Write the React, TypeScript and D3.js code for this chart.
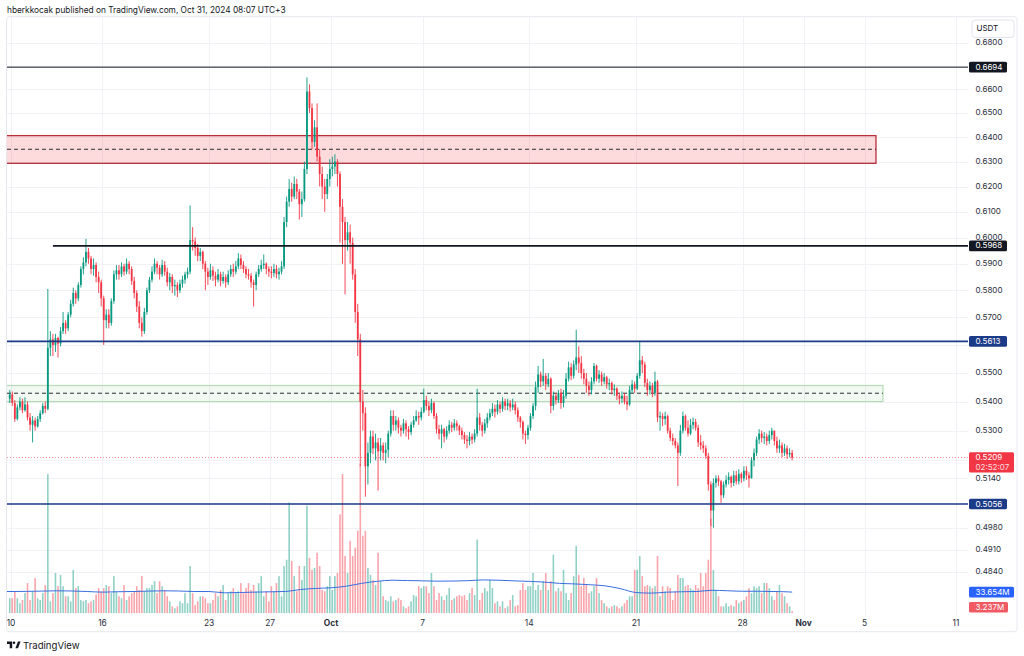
import React from 'react';
import * as d3 from 'd3';

// 4h candles, first one starts Sep 9 20:00
const firstOpen = 0.541;
const closes = [
  0.5425,
  0.5395, 0.534, 0.538, 0.54, 0.537, 0.539, // Sep 10
  0.5345, 0.532, 0.5335, 0.5315, 0.534, 0.536,
  0.5385, 0.5375, 0.559, 0.562, 0.56, 0.5625,
  0.5605, 0.565, 0.568, 0.566, 0.571, 0.575,
  0.579, 0.577, 0.582, 0.588, 0.5905, 0.5945,
  0.592, 0.588, 0.5895, 0.585, 0.583, 0.577, // Sep 15
  0.569, 0.571, 0.568, 0.576, 0.586, 0.5875,
  0.586, 0.589, 0.587, 0.59, 0.588, 0.5835,
  0.579, 0.574, 0.568, 0.565, 0.572, 0.58,
  0.584, 0.587, 0.59, 0.5885, 0.586, 0.5895,
  0.587, 0.583, 0.585, 0.5815, 0.582, 0.58, // Sep 20
  0.5825, 0.584, 0.586, 0.587, 0.599, 0.5985,
  0.596, 0.593, 0.5945, 0.59, 0.587, 0.585,
  0.5875, 0.5855, 0.584, 0.586, 0.5835, 0.585,
  0.583, 0.586, 0.588, 0.587, 0.589, 0.592,
  0.5895, 0.588, 0.586, 0.5855, 0.583, 0.582, // Sep 25
  0.586, 0.588, 0.5895, 0.59, 0.588, 0.587,
  0.5865, 0.588, 0.586, 0.587, 0.589, 0.606,
  0.614, 0.619, 0.616, 0.621, 0.618, 0.613,
  0.615, 0.627, 0.659, 0.652, 0.638, 0.644,
  0.632, 0.625, 0.62, 0.617, 0.623, 0.627, // Sep 30
  0.628, 0.63, 0.625, 0.612, 0.606, 0.599, // Oct 1
  0.602, 0.598, 0.586, 0.572, 0.562, 0.54,
  0.536, 0.518, 0.5225, 0.528, 0.524, 0.526,
  0.523, 0.525, 0.5225, 0.5235, 0.529, 0.535,
  0.532, 0.5335, 0.531, 0.53, 0.5325, 0.5305, // Oct 5
  0.5295, 0.532, 0.5335, 0.535, 0.5345, 0.5365,
  0.5405, 0.5385, 0.537, 0.5395, 0.535, 0.5305,
  0.529, 0.5305, 0.528, 0.53, 0.532, 0.531,
  0.5325, 0.5315, 0.53, 0.5285, 0.527, 0.5265,
  0.528, 0.527, 0.529, 0.5345, 0.532, 0.53, // Oct 10
  0.5325, 0.5345, 0.536, 0.5375, 0.5365, 0.539,
  0.5375, 0.54, 0.5385, 0.5395, 0.538, 0.539,
  0.537, 0.5345, 0.533, 0.529, 0.5285, 0.531,
  0.535, 0.5385, 0.545, 0.5495, 0.547, 0.549,
  0.546, 0.548, 0.5385, 0.542, 0.5405, 0.543, // Oct 15
  0.5395, 0.542, 0.548, 0.552, 0.549, 0.553,
  0.5555, 0.5535, 0.55, 0.548, 0.5455, 0.544,
  0.547, 0.5525, 0.548, 0.5495, 0.547, 0.5485,
  0.546, 0.5465, 0.544, 0.5445, 0.542, 0.541,
  0.542, 0.54, 0.539, 0.544, 0.546, 0.5445, // Oct 20
  0.549, 0.5545, 0.553, 0.5465, 0.544, 0.5455,
  0.543, 0.547, 0.5345, 0.535, 0.534, 0.535,
  0.53, 0.5275, 0.5265, 0.525, 0.5225, 0.53,
  0.535, 0.531, 0.529, 0.532, 0.533, 0.531,
  0.526, 0.525, 0.524, 0.5215, 0.512, 0.5035, // Oct 25
  0.5125, 0.514, 0.513, 0.5085, 0.512, 0.5135,
  0.5145, 0.5125, 0.515, 0.513, 0.5155, 0.514,
  0.5165, 0.515, 0.514, 0.52, 0.5225, 0.527,
  0.529, 0.5275, 0.528, 0.5265, 0.5285, 0.53,
  0.5265, 0.524, 0.525, 0.5225, 0.524, 0.522, // Oct 30
  0.5225, 0.5209,
];

const highs = [
  0.544,
  0.5435, 0.5405, 0.539, 0.5415, 0.541, 0.5415,
  0.54, 0.536, 0.535, 0.5345, 0.535, 0.537,
  0.5395, 0.54, 0.5805, 0.565, 0.564, 0.564,
  0.563, 0.5665, 0.572, 0.569, 0.572, 0.5765,
  0.581, 0.58, 0.583, 0.589, 0.5925, 0.5995,
  0.596, 0.593, 0.592, 0.5905, 0.587, 0.584,
  0.578, 0.573, 0.573, 0.577, 0.5875, 0.5895,
  0.5895, 0.5905, 0.59, 0.592, 0.591, 0.589,
  0.585, 0.58, 0.576, 0.57, 0.5735, 0.581,
  0.585, 0.589, 0.592, 0.591, 0.5895, 0.5915,
  0.591, 0.5885, 0.5865, 0.586, 0.584, 0.583,
  0.584, 0.5855, 0.587, 0.5885, 0.6125, 0.604,
  0.6, 0.5975, 0.596, 0.595, 0.591, 0.5885,
  0.59, 0.589, 0.587, 0.588, 0.587, 0.587,
  0.586, 0.5875, 0.5895, 0.59, 0.591, 0.594,
  0.5935, 0.591, 0.589, 0.588, 0.5865, 0.584,
  0.587, 0.5895, 0.5915, 0.5935, 0.5905, 0.589,
  0.589, 0.59, 0.5895, 0.5885, 0.591, 0.608,
  0.616, 0.623, 0.6215, 0.624, 0.623, 0.619,
  0.618, 0.63, 0.665, 0.662, 0.654, 0.647,
  0.654, 0.635, 0.628, 0.623, 0.625, 0.631,
  0.632, 0.633, 0.631, 0.626, 0.615, 0.608,
  0.606, 0.605, 0.6, 0.588, 0.575, 0.564,
  0.544, 0.538, 0.526, 0.53, 0.53, 0.529,
  0.5275, 0.5275, 0.526, 0.526, 0.53, 0.537,
  0.537, 0.535, 0.5345, 0.532, 0.534, 0.5335,
  0.5315, 0.533, 0.535, 0.537, 0.5365, 0.538,
  0.5445, 0.542, 0.54, 0.541, 0.54, 0.536,
  0.532, 0.532, 0.531, 0.5315, 0.5335, 0.533,
  0.534, 0.5335, 0.532, 0.531, 0.5295, 0.5285,
  0.5295, 0.529, 0.5305, 0.5445, 0.536, 0.533,
  0.534, 0.536, 0.5375, 0.5395, 0.539, 0.5405,
  0.54, 0.5415, 0.541, 0.541, 0.5405, 0.541,
  0.54, 0.538, 0.535, 0.5335, 0.53, 0.532,
  0.536, 0.5395, 0.547, 0.5525, 0.5505, 0.555,
  0.55, 0.55, 0.5485, 0.5435, 0.543, 0.544,
  0.5445, 0.544, 0.55, 0.554, 0.5535, 0.5545,
  0.5655, 0.5595, 0.556, 0.5515, 0.55, 0.547,
  0.5485, 0.5535, 0.553, 0.551, 0.5505, 0.55,
  0.549, 0.548, 0.547, 0.546, 0.545, 0.543,
  0.5435, 0.543, 0.542, 0.5455, 0.5475, 0.547,
  0.55, 0.5615, 0.556, 0.554, 0.548, 0.547,
  0.5465, 0.5505, 0.5475, 0.5365, 0.536, 0.5365,
  0.5355, 0.531, 0.529, 0.5275, 0.526, 0.532,
  0.5365, 0.5355, 0.5335, 0.534, 0.5345, 0.534,
  0.532, 0.5285, 0.5265, 0.525, 0.5225, 0.513,
  0.514, 0.515, 0.515, 0.5135, 0.513, 0.515,
  0.516, 0.515, 0.5165, 0.5165, 0.517, 0.516,
  0.518, 0.518, 0.516, 0.521, 0.524, 0.528,
  0.5305, 0.53, 0.5295, 0.529, 0.53, 0.531,
  0.53, 0.528, 0.527, 0.526, 0.5255, 0.525,
  0.524, 0.5235,
];

const lows = [
  0.5395,
  0.5385, 0.533, 0.5335, 0.537, 0.536, 0.5365,
  0.5335, 0.53, 0.526, 0.53, 0.531, 0.533,
  0.5355, 0.536, 0.537, 0.556, 0.556, 0.5575,
  0.5555, 0.5595, 0.564, 0.564, 0.565, 0.57,
  0.574, 0.575, 0.576, 0.581, 0.586, 0.589,
  0.59, 0.586, 0.5855, 0.583, 0.579, 0.574,
  0.56, 0.566, 0.566, 0.567, 0.575, 0.584,
  0.584, 0.585, 0.5855, 0.586, 0.586, 0.582,
  0.577, 0.572, 0.566, 0.563, 0.564, 0.571,
  0.579, 0.583, 0.586, 0.586, 0.584, 0.585,
  0.5855, 0.5815, 0.58, 0.579, 0.578, 0.5775,
  0.579, 0.581, 0.5825, 0.5845, 0.586, 0.595,
  0.593, 0.591, 0.591, 0.588, 0.58, 0.582,
  0.584, 0.5835, 0.5815, 0.583, 0.5815, 0.5825,
  0.581, 0.582, 0.585, 0.585, 0.586, 0.588,
  0.588, 0.5865, 0.5845, 0.584, 0.581, 0.574,
  0.58, 0.585, 0.587, 0.588, 0.586, 0.585,
  0.5845, 0.585, 0.5845, 0.584, 0.586, 0.588,
  0.604, 0.612, 0.614, 0.615, 0.615, 0.607,
  0.608, 0.614, 0.625, 0.65, 0.635, 0.636,
  0.63, 0.62, 0.615, 0.61, 0.615, 0.62,
  0.624, 0.625, 0.62, 0.598, 0.59, 0.5785,
  0.595, 0.59, 0.584, 0.568, 0.556, 0.518,
  0.53, 0.508, 0.512, 0.519, 0.522, 0.52,
  0.51, 0.52, 0.52, 0.519, 0.521, 0.528,
  0.53, 0.53, 0.529, 0.528, 0.529, 0.528,
  0.527, 0.5285, 0.531, 0.533, 0.532, 0.5335,
  0.536, 0.537, 0.535, 0.536, 0.534, 0.529,
  0.527, 0.524, 0.526, 0.527, 0.529, 0.5295,
  0.53, 0.53, 0.5285, 0.527, 0.5255, 0.524,
  0.525, 0.5255, 0.526, 0.528, 0.53, 0.528,
  0.529, 0.531, 0.5335, 0.535, 0.5345, 0.5355,
  0.536, 0.5365, 0.537, 0.537, 0.5365, 0.537,
  0.5355, 0.533, 0.531, 0.527, 0.5255, 0.527,
  0.53, 0.534, 0.537, 0.543, 0.545, 0.5455,
  0.544, 0.545, 0.536, 0.537, 0.539, 0.5395,
  0.5375, 0.538, 0.541, 0.547, 0.5475, 0.548,
  0.551, 0.55, 0.548, 0.546, 0.543, 0.542,
  0.5425, 0.546, 0.547, 0.5465, 0.5455, 0.546,
  0.5445, 0.544, 0.5425, 0.542, 0.5405, 0.539,
  0.5395, 0.539, 0.537, 0.5385, 0.543, 0.543,
  0.544, 0.548, 0.55, 0.545, 0.542, 0.5425,
  0.5415, 0.542, 0.533, 0.53, 0.5315, 0.532,
  0.529, 0.5265, 0.525, 0.524, 0.5115, 0.5215,
  0.529, 0.53, 0.528, 0.5285, 0.5305, 0.53,
  0.5245, 0.5235, 0.5225, 0.5205, 0.51, 0.4985,
  0.498, 0.511, 0.5115, 0.506, 0.5075, 0.511,
  0.512, 0.511, 0.5115, 0.512, 0.512, 0.5125,
  0.513, 0.5135, 0.511, 0.514, 0.518, 0.5215,
  0.5255, 0.526, 0.5255, 0.525, 0.5255, 0.527,
  0.525, 0.5225, 0.5225, 0.521, 0.5215, 0.5205,
  0.521, 0.52,
];

// volume in millions
const volumes = [
  24,
  24, 35, 24, 16, 21, 32,
  48, 21, 35, 56, 24, 21,
  32, 45, 221, 19, 32, 64,
  43, 61, 43, 27, 27, 19,
  69, 40, 43, 21, 19, 21,
  16, 19, 21, 30, 40, 35,
  40, 45, 43, 32, 59, 35,
  27, 24, 45, 21, 27, 32,
  35, 43, 37, 59, 35, 40,
  40, 45, 51, 32, 51, 43,
  37, 27, 19, 11, 8, 11,
  19, 16, 32, 16, 75, 32,
  13, 19, 27, 27, 24, 16,
  16, 21, 32, 27, 37, 45,
  21, 32, 35, 40, 32, 35,
  48, 32, 40, 48, 37, 45,
  35, 48, 59, 27, 35, 19,
  43, 35, 48, 59, 27, 75,
  85, 176, 83, 59, 35, 75,
  53, 75, 171, 88, 69, 72,
  96, 75, 37, 35, 43, 59,
  37, 59, 64, 157, 221, 91,
  64, 115, 91, 104, 131, 237,
  123, 131, 72, 61, 53, 45,
  96, 51, 27, 21, 19, 27,
  19, 21, 24, 21, 11, 8,
  11, 19, 29, 27, 43, 40,
  43, 43, 32, 64, 43, 21,
  32, 27, 21, 29, 40, 21,
  24, 27, 29, 27, 29, 21,
  32, 40, 29, 117, 21, 32,
  40, 35, 53, 40, 16, 19,
  11, 19, 8, 11, 21, 29,
  11, 13, 37, 48, 37, 43,
  43, 64, 37, 45, 37, 51,
  64, 37, 51, 93, 35, 40,
  35, 69, 32, 21, 32, 59,
  107, 61, 43, 56, 45, 32,
  35, 43, 56, 32, 21, 16,
  11, 8, 11, 13, 11, 8,
  11, 16, 21, 27, 27, 69,
  69, 91, 59, 43, 45, 43,
  40, 43, 91, 27, 43, 35,
  43, 40, 21, 35, 61, 56,
  56, 43, 45, 40, 37, 45,
  40, 64, 43, 64, 85, 150,
  69, 37, 27, 11, 11, 16,
  11, 13, 11, 21, 16, 19,
  21, 27, 40, 32, 43, 40,
  43, 32, 48, 48, 40, 27,
  21, 35, 45, 32, 27, 16,
  11, 3.237,
];

// volume moving average, one value per day from Sep 9
const volMA = [
  34.6, 34.6, 34.8, 35.2, 35.7, 35.4, 34.6, 33.6, 34.2, 34.6, 35.2, 35.7, 35.4,
  34.6, 34.6, 32.5, 33, 33.6, 34.1, 34.6, 37.8, 39.5,
  40.5, 43, 47.5, 50.7, 52.5, 52, 51.5, 51, 51.2, 51.8, 53, 52.5, 51.5, 50.7,
  49.5, 47.5, 46.6, 45.3, 43.5, 39, 33, 32, 33.5, 34.2, 34.6, 36.5, 35.8, 35,
  35, 34.6, 34,
];
const volMALast = 33.654;

// gridlines; labels hidden where a price tag sits on top of them
const priceTicks = [0.68, 0.67, 0.66, 0.65, 0.64, 0.63, 0.62, 0.61, 0.6, 0.59, 0.58, 0.57, 0.56,
  0.55, 0.54, 0.53, 0.52, 0.514, 0.506, 0.498, 0.491, 0.484];
const hiddenTickLabels = [0.67, 0.56, 0.52, 0.506];

const dateTicks = [
  new Date(2024, 8, 10), new Date(2024, 8, 16), new Date(2024, 8, 23), new Date(2024, 8, 27),
  new Date(2024, 9, 1), new Date(2024, 9, 7), new Date(2024, 9, 14), new Date(2024, 9, 21),
  new Date(2024, 9, 28), new Date(2024, 10, 1), new Date(2024, 10, 5), new Date(2024, 10, 11),
];
const dateLabels = ['10', '16', '23', '27', 'Oct', '7', '14', '21', '28', 'Nov', '5', '11'];

const GREEN = '#089981';
const RED = '#f23645';
const NAVY = '#1b3a87';
const INK = '#131722';
const FONT = 'Inter, "Liberation Sans", Arial, sans-serif';

const HOUR = 3600 * 1000;
const startTime = new Date(2024, 8, 9, 20);

const PLOT = { left: 7, right: 968, top: 17, bottom: 613.3 };

export default function App() {
  const x = d3.scaleTime()
    .domain([new Date(2024, 8, 10), new Date(2024, 10, 11)])
    .range([11, 956]);
  const y = d3.scaleLog().domain([0.68, 0.484]).range([42.7, 572]);
  const vy = d3.scaleLinear().domain([0, 100]).range([PLOT.bottom, PLOT.bottom - 63]);

  const candles = closes.map((c, i) => {
    const o = i === 0 ? firstOpen : closes[i - 1];
    const t = new Date(startTime.getTime() + i * 4 * HOUR + 2 * HOUR);
    return {
      t, o, c,
      h: Math.max(highs[i] ?? c, o, c),
      l: Math.min(lows[i] ?? c, o, c),
      v: volumes[i] ?? 0,
    };
  });
  const last = candles[candles.length - 1];

  const maPts: [number, number][] = volMA.map((v, i) => [
    x(new Date(2024, 8, 9 + i)), vy(v),
  ]);
  maPts.push([x(last.t), vy(volMALast)]);
  const maLine = d3.line().curve(d3.curveMonotoneX)(maPts) || '';

  const lastY = y(last.c);

  const redZone = { top: 0.6406, bottom: 0.6293, mid: 0.635, end: new Date(2024, 10, 5, 18) };
  const greenZone = { top: 0.5456, bottom: 0.54, mid: 0.5429, end: new Date(2024, 10, 6, 5) };

  const label = (yc: number, text: string, bg: string, w = 38) => (
    <g key={text}>
      <rect x={969} y={yc - 5.3} width={w} height={10.6} rx={1.5} fill={bg} />
      <text x={975.5} y={yc + 0.3} fontSize={8} fill="#fff" dominantBaseline="middle">{text}</text>
    </g>
  );

  return (
    <svg width={1024} height={656} viewBox="0 0 1024 656"
      style={{ position: 'absolute', left: 0, top: 0, background: '#fff', fontFamily: FONT }}>
      <defs>
        <clipPath id="plot">
          <rect x={PLOT.left} y={PLOT.top} width={PLOT.right - PLOT.left} height={PLOT.bottom - PLOT.top} />
        </clipPath>
      </defs>
      <rect width={1024} height={656} fill="#fff" />
      <text x={7} y={12.5} fontSize={8.3} fill={INK}>
        hberkkocak published on TradingView.com, Oct 31, 2024 08:07 UTC+3
      </text>
      <rect x={6.5} y={16.7} width={1010.5} height={615} rx={3} fill="none" stroke="#e6e8ee" />

      {/* grid */}
      <g stroke="#f0f2f6" strokeWidth={1}>
        {priceTicks.map(p => (
          <line key={p} x1={PLOT.left} x2={PLOT.right} y1={Math.round(y(p)) + 0.5} y2={Math.round(y(p)) + 0.5} />
        ))}
        {dateTicks.map((d, i) => (
          <line key={i} x1={Math.round(x(d)) + 0.5} x2={Math.round(x(d)) + 0.5} y1={PLOT.top} y2={PLOT.bottom + 2} />
        ))}
      </g>

      <g clipPath="url(#plot)">
        {/* volume */}
        {candles.map((d, i) => (
          <rect key={i} x={x(d.t) - 0.8} width={1.6} y={vy(d.v)} height={PLOT.bottom - vy(d.v)}
            fill={d.c >= d.o ? GREEN : RED} fillOpacity={0.45} />
        ))}
        <path d={maLine} fill="none" stroke="#3a6ee0" strokeWidth={1} />

        {/* zones */}
        <rect x={PLOT.left - 2} y={y(redZone.top)} width={x(redZone.end) - PLOT.left + 2}
          height={y(redZone.bottom) - y(redZone.top)} fill="rgba(242,54,69,0.18)" stroke="#b5303b" strokeWidth={1.3} />
        <line x1={PLOT.left} x2={x(redZone.end)} y1={y(redZone.mid)} y2={y(redZone.mid)}
          stroke={INK} strokeDasharray="4 3" strokeWidth={0.9} />
        <rect x={PLOT.left - 2} y={y(greenZone.top)} width={x(greenZone.end) - PLOT.left + 2}
          height={y(greenZone.bottom) - y(greenZone.top)} fill="rgba(76,175,80,0.07)" stroke="#b6dcb6" strokeWidth={1.2} />
        <line x1={PLOT.left} x2={x(greenZone.end)} y1={y(greenZone.mid)} y2={y(greenZone.mid)}
          stroke={INK} strokeDasharray="4 3" strokeWidth={0.9} />

        {/* candles */}
        {candles.map((d, i) => {
          const cx = x(d.t);
          const col = d.c >= d.o ? GREEN : RED;
          const top = y(Math.max(d.o, d.c));
          const bh = Math.max(1, y(Math.min(d.o, d.c)) - top);
          return (
            <g key={i}>
              <line x1={cx} x2={cx} y1={y(d.h)} y2={y(d.l)} stroke={col} strokeWidth={0.9} />
              <rect x={cx - 0.9} width={1.8} y={top} height={bh} fill={col} />
            </g>
          );
        })}

        {/* levels */}
        <line x1={PLOT.left} x2={PLOT.right} y1={y(0.6694)} y2={y(0.6694)} stroke={INK} strokeWidth={1} />
        <line x1={x(new Date(2024, 8, 12, 18))} x2={PLOT.right} y1={y(0.5968)} y2={y(0.5968)} stroke={INK} strokeWidth={1.8} />
        <line x1={PLOT.left} x2={PLOT.right} y1={y(0.5613)} y2={y(0.5613)} stroke={NAVY} strokeWidth={1.6} />
        <line x1={PLOT.left} x2={PLOT.right} y1={y(0.5056)} y2={y(0.5056)} stroke={NAVY} strokeWidth={1.6} />
        <line x1={PLOT.left} x2={PLOT.right} y1={lastY} y2={lastY} stroke={RED} strokeOpacity={0.6}
          strokeDasharray="1 2" strokeWidth={1} />
      </g>

      {/* price axis */}
      <g fontSize={8} fill="#2a2e39">
        {priceTicks.filter(p => !hiddenTickLabels.includes(p)).map(p => (
          <text key={p} x={975.5} y={y(p) + 0.3} dominantBaseline="middle">{p.toFixed(4)}</text>
        ))}
      </g>
      <rect x={972} y={20} width={42} height={17.5} rx={3} fill="#fff" stroke="#e0e3eb" />
      <text x={976.5} y={29.2} fontSize={8} fill={INK} dominantBaseline="middle">USDT</text>

      {label(y(0.6694), '0.6694', INK)}
      {label(y(0.5968), '0.5968', INK)}
      {label(y(0.5613), '0.5613', NAVY)}
      {label(y(0.5056), '0.5056', NAVY)}
      <g>
        <rect x={969} y={lastY - 5.3} width={45} height={20.3} rx={1.5} fill={RED} />
        <text x={975.5} y={lastY + 0.3} fontSize={8} fill="#fff" dominantBaseline="middle">{last.c.toFixed(4)}</text>
        <text x={975.5} y={lastY + 10} fontSize={8} fill="#fff" fillOpacity={0.85} dominantBaseline="middle">02:52:07</text>
      </g>
      {label(vy(volMALast), '33.654M', '#2962ff', 45)}
      {label(vy(last.v) - 4, '3.237M', '#ef5a63', 39)}

      {/* time axis */}
      <g fontSize={8.4} fill="#2a2e39" textAnchor="middle">
        {dateTicks.map((d, i) => (
          <text key={i} x={x(d)} y={625.5}
            fontWeight={dateLabels[i] === 'Oct' || dateLabels[i] === 'Nov' ? 700 : 400}>{dateLabels[i]}</text>
        ))}
      </g>

      {/* logo */}
      <g transform="translate(7,641.5)" fill={INK}>
        <path d="M0 0 H5.2 V6.8 H2.7 V2.4 H0 Z" />
        <circle cx={7} cy={1.3} r={1.3} />
        <path d="M8.4 6.8 L11 0 H13.6 L11 6.8 Z" />
      </g>
      <text x={23} y={648.5} fontSize={9.6} fill={INK}>TradingView</text>
    </svg>
  );
}
